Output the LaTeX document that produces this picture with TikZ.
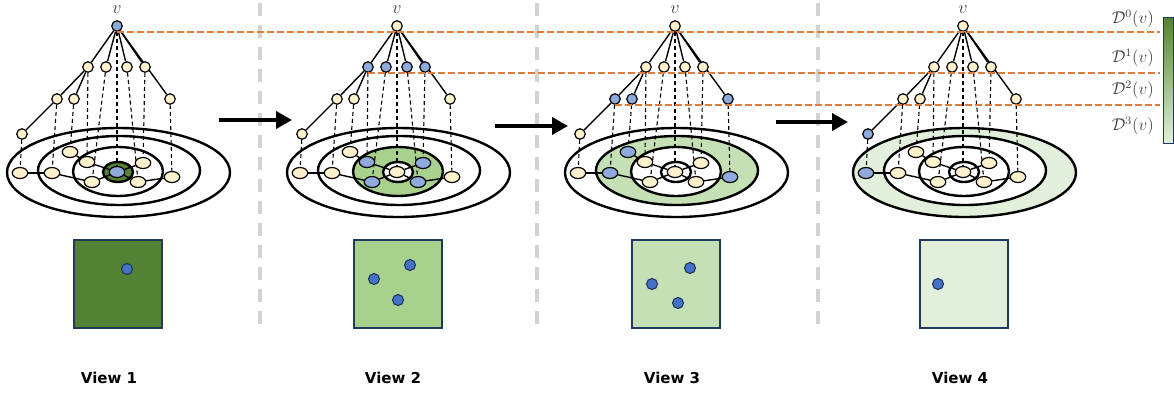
\documentclass[tikz,border=0pt]{standalone}
\usepackage{fontspec}
\newfontfamily\viewfont{DejaVu Sans}
\usetikzlibrary{shapes.geometric,arrows.meta}
\definecolor{cream}{HTML}{FFF2CC}
\definecolor{nblue}{HTML}{8FAADC}
\definecolor{dblue}{HTML}{4472C4}
\definecolor{navy}{HTML}{1F3864}
\definecolor{gA}{HTML}{548235}
\definecolor{gB}{HTML}{A9D18E}
\definecolor{gC}{HTML}{C5E0B4}
\definecolor{gD}{HTML}{E2EFDA}
\definecolor{lvlline}{HTML}{E07B39}
\definecolor{sepgray}{HTML}{D3D3D3}
\definecolor{txtgray}{HTML}{404040}
\pgfdeclarelayer{rings}
\pgfdeclarelayer{links}
\pgfsetlayers{rings,links,main}
% enlarged math labels
\newcommand\vtext{\scalebox{1.5}{$v$}}
\newcommand\depthtext[1]{\scalebox{1.42}{$\mathcal{D}^{#1}(v)$}}
\tikzset{
  lv0/.style={fill=cream}, lv1/.style={fill=cream},
  lv2/.style={fill=cream}, lv3/.style={fill=cream},
  tnode/.style={circle, draw, line width=1.2pt, minimum size=10.5pt, inner sep=0pt},
  gnode/.style={ellipse, draw, line width=1.2pt, minimum width=15.5pt, minimum height=11pt, inner sep=0pt},
  ring/.style={draw, line width=2.4pt},
  tedge/.style={line width=1.4pt},
  proj/.style={line width=1.1pt, dash pattern=on 4pt off 3pt},
  lvlrule/.style={lvlline, line width=1.5pt, dash pattern=on 7pt off 3pt},
  sepline/.style={sepgray, line width=3.5pt, dash pattern=on 13pt off 9pt},
  bigarrow/.style={line width=3.8pt, -{Triangle[length=16pt,width=17pt]}},
  viewsq/.style={draw=navy, line width=2pt, minimum size=88pt, inner sep=0pt},
  dot/.style={circle, draw=navy, fill=dblue, line width=1.1pt, minimum size=11pt, inner sep=0pt},
  vlabel/.style={text=txtgray, font=\fontsize{12}{12}\selectfont, anchor=base, inner sep=0pt},
  dlabel/.style={text=txtgray, font=\fontsize{12}{12}\selectfont, anchor=east, inner sep=0pt},
  viewlabel/.style={font=\viewfont\bfseries\fontsize{15}{16}\selectfont},
}
% one view: #1 x offset, #2 name prefix, #3 highlighted depth,
% #4 ring shading, #5 square colour, #6 dots in the square
\newcommand\viewpanel[6]{%
\begin{scope}[shift={(#1,0)}, name prefix=#2-, lv#3/.style={fill=nblue}]
  \begin{pgfonlayer}{rings}
    #4
    \draw[ring] (118.5,172.5) ellipse [x radius=111.5, y radius=44.5];
    \draw[ring] (119,170.5) ellipse [x radius=81, y radius=34.5];
    \draw[ring] (118,171.5) ellipse [x radius=45, y radius=24.5];
    \draw[ring] (118,172) ellipse [x radius=15, y radius=10];
  \end{pgfonlayer}
  % hierarchy
  \node[vlabel] (v) at (117,13.5) {\vtext};
  \node[tnode,lv0] (r) at (117,26) {};
  \node[tnode,lv1] (a1) at (88,67) {};
  \node[tnode,lv1] (a2) at (106,67) {};
  \node[tnode,lv1] (a3) at (127,67) {};
  \node[tnode,lv1] (a4) at (145,67) {};
  \node[tnode,lv2] (b1) at (57,99) {};
  \node[tnode,lv2] (b2) at (74,99) {};
  \node[tnode,lv2] (b3) at (170,99) {};
  \node[tnode,lv3] (c1) at (22,134) {};
  % graph
  \node[gnode,lv0] (g0) at (117,172) {};
  \node[gnode,lv1] (ga1) at (87,162) {};
  \node[gnode,lv1] (ga2) at (92,182) {};
  \node[gnode,lv1] (ga3) at (138,182) {};
  \node[gnode,lv1] (ga4) at (143,163) {};
  \node[gnode,lv2] (gb1) at (52,173) {};
  \node[gnode,lv2] (gb2) at (70,152) {};
  \node[gnode,lv2] (gb3) at (172,177) {};
  \node[gnode,lv3] (gc1) at (20,173) {};
  \begin{pgfonlayer}{links}
    \foreach \t in {a1,a2,a3,a4,b3} \draw[tedge] (r) -- (\t);
    \draw[tedge] (a1) -- (b1);
    \draw[tedge] (a1) -- (b2);
    \draw[tedge] (b1) -- (c1);
    \foreach \s/\t in {gc1/gb1, gb1/ga2, gb2/ga1, ga1/g0, ga2/g0, ga3/g0, ga4/g0, ga3/gb3}
      \draw[tedge] (\s) -- (\t);
    \foreach \s/\t in {r/g0, a1/ga1, a2/ga2, a3/ga3, a4/ga4, b1/gb1, b2/gb2, b3/gb3, c1/gc1}
      \draw[proj] (\s) -- (\t);
  \end{pgfonlayer}
  % view square
  \node[viewsq, fill=#5] (sq) at (117.5,283.5) {};
  #6
\end{scope}}

\begin{document}
\begin{tikzpicture}[x=1pt, y=-1pt]
\useasboundingbox (0,0) rectangle (1174,394);

% column separators
\foreach \sx in {260,537,818}
  \draw[sepline] (\sx,3) -- (\sx,327);

\viewpanel{0}{p1}{0}
  {\fill[gA] (118,172) ellipse [x radius=15, y radius=10];}
  {gA}
  {\node[dot] (d1) at (127,269) {};}
\viewpanel{280}{p2}{1}
  {\fill[gB] (118,171.5) ellipse [x radius=45, y radius=24.5];
   \fill[white] (118,172) ellipse [x radius=15, y radius=10];}
  {gB}
  {\node[dot] (d1) at (94,279) {};
   \node[dot] (d2) at (130,265) {};
   \node[dot] (d3) at (118,300) {};}
\viewpanel{558}{p3}{2}
  {\fill[gC] (119,170.5) ellipse [x radius=81, y radius=34.5];
   \fill[white] (118,171.5) ellipse [x radius=45, y radius=24.5];}
  {gC}
  {\node[dot] (d1) at (94,284) {};
   \node[dot] (d2) at (132,268) {};
   \node[dot] (d3) at (120,303) {};}
\viewpanel{846}{p4}{3}
  {\fill[gD] (118.5,172.5) ellipse [x radius=111.5, y radius=44.5];
   \fill[white] (119,170.5) ellipse [x radius=81, y radius=34.5];}
  {gD}
  {\node[dot] (d1) at (92,284) {};}

% transitions between views
\coordinate (s1) at (219,120); \coordinate (e1) at (292,120);
\coordinate (s2) at (495,126); \coordinate (e2) at (568,126);
\coordinate (s3) at (776,122); \coordinate (e3) at (848,122);
\draw[bigarrow] (s1) -- (e1);
\draw[bigarrow] (s2) -- (e2);
\draw[bigarrow] (s3) -- (e3);

% depth legend
\node[draw=navy, line width=1pt, minimum width=10pt, minimum height=126pt,
      inner sep=0pt, top color=gA, bottom color=gD] (bar) at (1168.5,80) {};
\coordinate (lend) at (1160,0);
\draw[lvlrule] (p1-r.south) -- (p1-r.south -| lend);
\draw[lvlrule] (p2-a1.south) -- (p2-a1.south -| lend);
\draw[lvlrule] (p3-b1.south) -- (p3-b1.south -| lend);
\node[dlabel] (D0) at (1154,19) {\depthtext{0}};
\node[dlabel] (D1) at (1154,58) {\depthtext{1}};
\node[dlabel] (D2) at (1154,90) {\depthtext{2}};
\node[dlabel] (D3) at (1154,126) {\depthtext{3}};

% view captions
\node[viewlabel] (V1) at (109,378) {View 1};
\node[viewlabel] (V2) at (393,378) {View 2};
\node[viewlabel] (V3) at (672,378) {View 3};
\node[viewlabel] (V4) at (960,378) {View 4};
\end{tikzpicture}
\end{document}
